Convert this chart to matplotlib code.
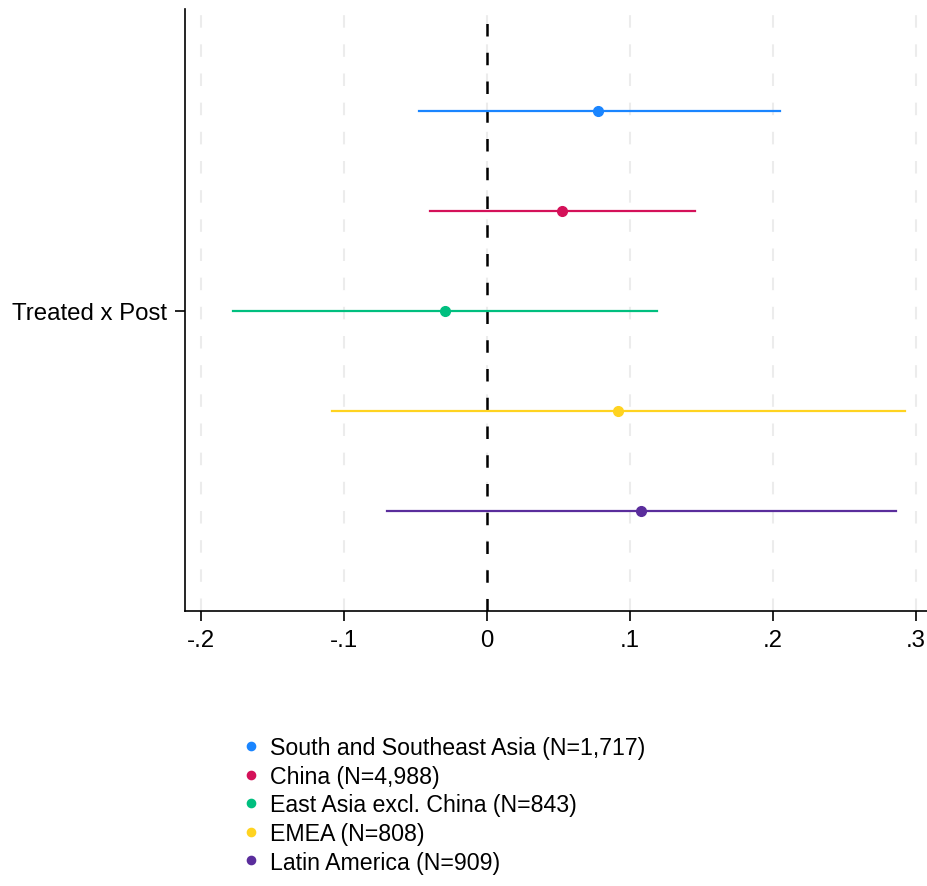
import matplotlib
matplotlib.use("Agg")
from matplotlib import pyplot as plt
import numpy as np

plt.rcParams['font.family'] = ['Liberation Sans', 'DejaVu Sans']

# coefficient on Treated x Post, by region
regions = ["South and Southeast Asia (N=1,717)",
           "China (N=4,988)",
           "East Asia excl. China (N=843)",
           "EMEA (N=808)",
           "Latin America (N=909)"]
coef = [0.0776, 0.0524, -0.0294, 0.0916, 0.1077]
ci_lo = [-0.0476, -0.0399, -0.1776, -0.1084, -0.0699]
ci_hi = [0.2049, 0.1455, 0.1189, 0.2923, 0.2860]
colors = ['#1a85ff', '#d41159', '#00bf7f', '#ffd320', '#5a2d9c']

xticks = [-0.2, -0.1, 0, 0.1, 0.2, 0.3]
xticklabels = ["-.2", "-.1", "0", ".1", ".2", ".3"]

fig = plt.figure(figsize=(9.28, 8.87), dpi=100)
ax = fig.add_axes([185/928, 1-612/887, 1-185/928, 602/887])

for xt in xticks:
    ax.axvline(xt, color='#ececec', lw=1.5, ls=(0, (6, 8)), zorder=0)
ax.axvline(0, color='black', lw=1.8, ls=(0, (5, 6.5)), zorder=1)

for i in range(len(regions)):
    y = i + 1
    ax.plot([ci_lo[i], ci_hi[i]], [y, y], color=colors[i], lw=1.6, zorder=2)
    ax.plot(coef[i], y, 'o', color=colors[i], ms=7, zorder=3, label=regions[i])

ax.set_xlim(-0.2112, 0.3084)
ax.set_ylim(6.0, -0.02)
ax.set_xticks(xticks)
ax.set_xticklabels(xticklabels)
ax.set_yticks([3])
ax.set_yticklabels(["Treated x Post"])
ax.tick_params(axis='both', labelsize=17.3, length=7, width=1.2, color='black', pad=6)
ax.spines['top'].set_visible(False)
ax.spines['right'].set_visible(False)
for s in ['left', 'bottom']:
    ax.spines[s].set_linewidth(1.2)

handles, labels = ax.get_legend_handles_labels()
fig.legend(handles, labels, loc='upper left', bbox_to_anchor=(235/928, 1-728/887),
           frameon=False, fontsize=16.7, handlelength=0.6, handletextpad=0.5,
           labelspacing=0.24, markerscale=0.85, borderaxespad=0)

fig.savefig("out.png", dpi=100)
